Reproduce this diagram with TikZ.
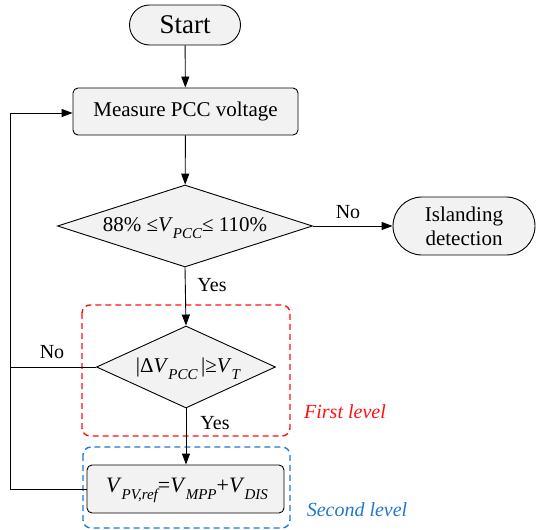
\documentclass[tikz,border=0pt]{standalone}
\usepackage{fontspec}
\setmainfont{Liberation Serif}
\usetikzlibrary{shapes.geometric,shapes.misc,arrows.meta}
\definecolor{boxfill}{HTML}{F2F2F2}
\definecolor{lvlred}{HTML}{FF1010}
\definecolor{lvlblue}{HTML}{1F78D0}
\newcommand\lowsub[1]{\raisebox{-0.32em}{\fontsize{15}{15}\selectfont\itshape #1}}
\newcommand\varV{\textit{V}}
\tikzset{
  base/.style={draw=black, line width=0.9pt, fill=boxfill, font=\fontsize{21}{25}\selectfont, inner sep=0pt},
  pill/.style={base, rounded rectangle},
  procbox/.style={base, rectangle, rounded corners=5pt},
  decision/.style={base, diamond},
  flow/.style={line width=0.9pt, -{Triangle[length=11pt,width=8pt]}},
  link/.style={line width=0.9pt},
  lbl/.style={font=\fontsize{20}{24}\selectfont, inner sep=0pt},
  level/.style={line width=1.4pt, dash pattern=on 6pt off 4pt, rounded corners=8pt},
}
\begin{document}
\begin{tikzpicture}[x=1pt,y=-1pt]
\useasboundingbox (0,0) rectangle (536,530);

% level frames
\draw[level, lvlred] (82,305) rectangle (290,436);
\draw[level, lvlblue] (83,447) rectangle (290,528);

% nodes
\node[pill, minimum width=111pt, minimum height=40pt, font=\fontsize{27}{30}\selectfont] (start) at (185,25) {Start};
\node[procbox, minimum width=225pt, minimum height=47pt] (measure) at (185.5,111.5) {Measure PCC voltage};
\node[decision, minimum width=255pt, minimum height=82pt] (range) at (185,226) {};
\node[font=\fontsize{21}{25}\selectfont, inner sep=0pt] (rangetxt) at (185,228) {88\% ≤\varV\lowsub{PCC}≤ 110\%};
\node[pill, minimum width=142pt, minimum height=58pt, align=center, font=\fontsize{21}{24}\selectfont] (island) at (464,226) {Islanding\\detection};
\node[decision, minimum width=179pt, minimum height=82pt] (delta) at (186,367) {};
\node[font=\fontsize{21}{25}\selectfont, inner sep=0pt] (deltatxt) at (188,369) {|Δ\varV\lowsub{PCC}\,|≥\varV\lowsub{T}};
\node[procbox, minimum width=197pt, minimum height=48pt] (setref) at (185.5,489) {};
\node[font=\fontsize{22}{25}\selectfont, inner sep=0pt] (setreftxt) at (187,490) {\varV\lowsub{PV,ref}=\varV\lowsub{MPP}+\varV\lowsub{DIS}};

% connectors
\draw[flow] (start) -- (measure);
\draw[flow] (measure) -- (range);
\draw[flow] (range.east) -- (island.west);
\draw[flow] (range.south) -- (delta.north);
\draw[flow] (delta.south) -- (delta.south |- setref.north);
\coordinate (loopbot) at (10,489);
\coordinate (looptop) at (10,113);
\draw[link] (delta.west) -- (delta.west -| loopbot);
\draw[flow] (setref.west) -- (loopbot) -- (looptop) -- (looptop -| measure.west);

% labels
\node[lbl] (nohi) at (348,212) {No};
\node[lbl] (yeshi) at (212,285) {Yes};
\node[lbl] (nolo) at (52,352) {No};
\node[lbl] (yeslo) at (215,423) {Yes};
\node[lbl, text=lvlred, font=\fontsize{20}{24}\selectfont\itshape] (first) at (345,412) {First level};
\node[lbl, text=lvlblue, font=\fontsize{20}{24}\selectfont\itshape] (second) at (357,510) {Second level};
\end{tikzpicture}
\end{document}
